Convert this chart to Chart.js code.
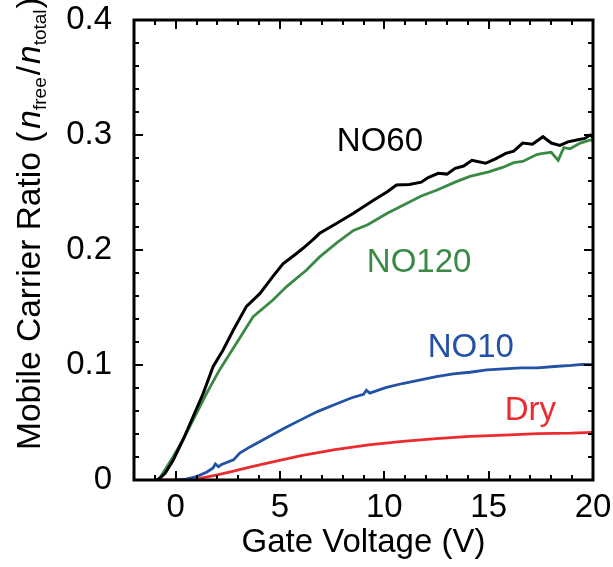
<!DOCTYPE html>
<html>
<head>
<meta charset="utf-8">
<script src="https://cdn.jsdelivr.net/npm/chart.js@4"></script>
<style>
  html, body { margin: 0; padding: 0; background: #fff; }
  canvas { display: block; }
</style>
</head>
<body>
<canvas id="chart" width="613" height="567"></canvas>
<script>
// Mobile carrier ratio vs gate voltage

// Axis ticks
const xTicks = [0, 5, 10, 15, 20];
const yTicks = [0, 0.1, 0.2, 0.3, 0.4];
const yTickLabels = ['0', '0.1', '0.2', '0.3', '0.4'];

// NO60 (black)
const no60V = [-0.9, -0.77, -0.5, -0.13, 0.35, 0.83, 1.31, 1.79, 2.27, 2.75, 3.39, 4.03, 4.66, 5.14, 5.79, 6.1, 6.58, 6.9, 7.7, 8.52, 9.46, 10.14, 10.58, 11.2, 11.77, 12.1, 12.58, 13.0, 13.39, 13.8, 14.2, 14.85, 15.3, 15.82, 16.2, 16.63, 17.1, 17.6, 18.0, 18.41, 18.8, 19.22, 19.6, 19.87, 20];
const no60R = [0, 0.0015, 0.006, 0.017, 0.035, 0.055, 0.075, 0.0985, 0.113, 0.130, 0.151, 0.162, 0.177, 0.188, 0.197, 0.2015, 0.209, 0.2145, 0.223, 0.232, 0.243, 0.2507, 0.2565, 0.257, 0.259, 0.263, 0.2667, 0.266, 0.271, 0.273, 0.278, 0.2754, 0.279, 0.284, 0.286, 0.293, 0.292, 0.2985, 0.293, 0.291, 0.294, 0.2957, 0.297, 0.300, 0.298];

// NO120 (green)
const no120V = [-0.9, -0.77, -0.13, 0.35, 0.83, 1.47, 2.1, 2.91, 3.71, 4.66, 5.3, 6.27, 6.9, 7.7, 8.52, 9.2, 10.14, 10.9, 11.77, 12.5, 13.39, 14.1, 15.0, 15.7, 16.2, 16.63, 17.3, 17.6, 18.0, 18.33, 18.6, 18.9, 19.39, 19.87, 20];
const no120R = [0, 0.0015, 0.020, 0.035, 0.052, 0.075, 0.0957, 0.119, 0.142, 0.1565, 0.168, 0.1826, 0.194, 0.206, 0.217, 0.222, 0.232, 0.239, 0.247, 0.252, 0.259, 0.264, 0.268, 0.272, 0.276, 0.277, 0.283, 0.284, 0.285, 0.278, 0.289, 0.288, 0.293, 0.2957, 0.295];

// NO10 (blue)
const no10V = [0, 0.5, 1.0, 1.5, 1.79, 1.9, 2.05, 2.2, 2.77, 3.07, 3.58, 4.39, 5.2, 6.01, 6.82, 7.63, 8.44, 9.0, 9.14, 9.3, 10.06, 10.87, 11.68, 12.49, 13.3, 14.1, 14.92, 15.73, 16.54, 17.35, 18.15, 18.96, 19.5, 20];
const no10R = [0, 0.0008, 0.003, 0.007, 0.0105, 0.014, 0.0115, 0.0135, 0.0175, 0.0235, 0.029, 0.037, 0.045, 0.0525, 0.0597, 0.0656, 0.0715, 0.0745, 0.078, 0.0755, 0.0803, 0.0839, 0.0869, 0.0898, 0.0922, 0.0937, 0.0957, 0.0966, 0.0975, 0.0975, 0.0987, 0.0996, 0.1005, 0.1004];

// Dry (red)
const dryV = [-0.8, 0, 0.5, 1.15, 2.0, 2.77, 3.5, 4.39, 5.2, 6.01, 7.63, 9.25, 10.87, 12.49, 14.1, 15.73, 17.35, 18.96, 20];
const dryR = [0, 0, 0.0005, 0.0015, 0.0045, 0.0078, 0.011, 0.0147, 0.018, 0.0212, 0.0265, 0.0306, 0.0336, 0.036, 0.038, 0.039, 0.0404, 0.0408, 0.0415];

// Series labels placed in data units (left edge, baseline)
const seriesNames = ['NO60', 'NO120', 'NO10', 'Dry'];
const labelV = [7.72, 9.16, 12.08, 15.77];
const labelR = [0.286, 0.181, 0.107, 0.052];

const colors = ['#000000', '#3a8a46', '#2351a6', '#ec2b2f'];
const FONT = '"Liberation Sans", Arial, Helvetica, sans-serif';

function toPoints(xs, ys) {
    return xs.map((x, i) => ({ x: x, y: ys[i] }));
}

// no automatic label overflow padding, the layout padding decides
function noPad(s) {
    s.paddingTop = 0; s.paddingBottom = 0;
    s.paddingLeft = 0; s.paddingRight = 0;
}

// Frame, inward ticks, series labels and the y-axis title (with subscripts)
const decorPlugin = {
    id: 'decor',
    afterDatasetsDraw(chart) {
        const { ctx, chartArea: a, scales: { x, y } } = chart;
        ctx.save();
        ctx.strokeStyle = '#000';
        ctx.lineCap = 'butt';

        // minor + major ticks on all four sides
        ctx.lineWidth = 2;
        for (let v = -2; v <= 20; v++) {
            const px = Math.round(x.getPixelForValue(v));
            const len = (v % 5 === 0) ? 9 : 5;
            ctx.beginPath();
            ctx.moveTo(px, a.bottom); ctx.lineTo(px, a.bottom - len);
            ctx.moveTo(px, a.top); ctx.lineTo(px, a.top + len);
            ctx.stroke();
        }
        for (let k = 0; k <= 20; k++) {
            const py = Math.round(y.getPixelForValue(k * 0.02));
            const len = (k % 5 === 0) ? 9 : 5;
            ctx.beginPath();
            ctx.moveTo(a.left, py); ctx.lineTo(a.left + len, py);
            ctx.moveTo(a.right, py); ctx.lineTo(a.right - len, py);
            ctx.stroke();
        }

        // frame
        ctx.lineWidth = 3;
        ctx.strokeRect(a.left, a.top, a.right - a.left, a.bottom - a.top);

        // series labels
        ctx.font = '33px ' + FONT;
        ctx.textAlign = 'left';
        ctx.textBaseline = 'alphabetic';
        seriesNames.forEach((name, i) => {
            ctx.fillStyle = colors[i];
            ctx.fillText(name, x.getPixelForValue(labelV[i]), y.getPixelForValue(labelR[i]));
        });
        ctx.restore();
    },
    afterDraw(chart) {
        const ctx = chart.ctx;
        const main = '33.5px ' + FONT;
        const ital = 'italic 33.5px ' + FONT;
        const sub = '19px ' + FONT;
        const parts = [
            { t: 'Mobile Carrier Ratio (', f: main, dy: 0, gap: 3 },
            { t: 'n', f: ital, dy: 0, gap: 0 },
            { t: 'free', f: sub, dy: 6, gap: 2 },
            { t: '/', f: main, dy: 0, gap: 2 },
            { t: 'n', f: ital, dy: 0, gap: 0 },
            { t: 'total', f: sub, dy: 6, gap: 1 },
            { t: ')', f: main, dy: 0, gap: 0 }
        ];
        ctx.save();
        ctx.translate(40, 450);
        ctx.rotate(-Math.PI / 2);
        ctx.fillStyle = '#000';
        ctx.textBaseline = 'alphabetic';
        ctx.textAlign = 'left';
        let pos = 0;
        parts.forEach(p => {
            ctx.font = p.f;
            ctx.fillText(p.t, pos, p.dy);
            pos += ctx.measureText(p.t).width + p.gap;
        });
        ctx.restore();
    }
};

const ctx = document.getElementById('chart').getContext('2d');

const chart = new Chart(ctx, {
    type: 'line',
    data: {
        datasets: [
            { label: 'NO60', data: toPoints(no60V, no60R), borderColor: colors[0], borderWidth: 3 },
            { label: 'NO120', data: toPoints(no120V, no120R), borderColor: colors[1] },
            { label: 'NO10', data: toPoints(no10V, no10R), borderColor: colors[2] },
            { label: 'Dry', data: toPoints(dryV, dryR), borderColor: colors[3] }
        ]
    },
    options: {
        responsive: false,
        animation: false,
        devicePixelRatio: 1,
        layout: { padding: { top: 20, right: 20, left: 0, bottom: 0 } },
        plugins: {
            legend: { display: false },
            tooltip: { enabled: false }
        },
        elements: {
            point: { radius: 0 },
            line: { tension: 0, borderWidth: 2.8, fill: false }
        },
        scales: {
            x: {
                type: 'linear',
                min: -2,
                max: 20,
                grid: { display: false },
                border: { display: false },
                afterBuildTicks: s => { s.ticks = xTicks.map(v => ({ value: v })); },
                afterFit: s => { s.height = 87; noPad(s); },
                ticks: {
                    color: '#000',
                    font: { family: FONT, size: 33 },
                    padding: 0,
                    maxRotation: 0,
                    autoSkip: false
                },
                title: {
                    display: true,
                    text: 'Gate Voltage (V)',
                    color: '#000',
                    font: { family: FONT, size: 33 },
                    padding: { top: 0, bottom: 4 }
                }
            },
            y: {
                type: 'linear',
                min: 0,
                max: 0.4,
                grid: { display: false },
                border: { display: false },
                afterBuildTicks: s => { s.ticks = yTicks.map(v => ({ value: v })); },
                afterFit: s => { s.width = 134; noPad(s); },
                ticks: {
                    color: '#000',
                    font: { family: FONT, size: 33 },
                    padding: 14,
                    callback: (value) => yTickLabels[yTicks.indexOf(value)]
                }
            }
        }
    },
    plugins: [decorPlugin]
});
</script>
</body>
</html>
